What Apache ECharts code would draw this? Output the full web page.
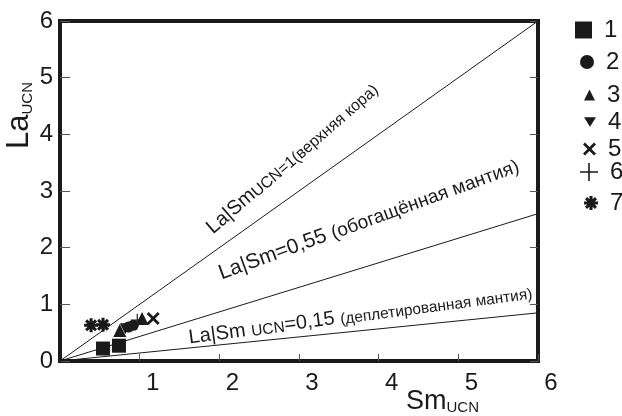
<!DOCTYPE html>
<html>
<head>
<meta charset="utf-8">
<script src="https://cdn.jsdelivr.net/npm/echarts@6/dist/echarts.min.js"></script>
<style>html,body{margin:0;padding:0;background:#fff}#c{width:622px;height:416px}</style>
</head>
<body>
<div id="c"></div>
<script>
// ---- data ----
const seriesNames = ['1', '2', '3', '4', '5', '6', '7'];
const s1 = [[0.54, 0.22], [0.74, 0.27]];
const s2 = [[0.86, 0.60], [0.92, 0.63]];
const s3 = [[0.75, 0.54], [1.03, 0.75]];
const s4 = [[0.82, 0.57]];
const s5 = [[1.17, 0.75]];
const s6 = [[0.97, 0.72]];
const s7 = [[0.39, 0.63], [0.54, 0.64]];
const lineUpperCrust = [[0, 0], [6, 6]];
const lineEnriched = [[0, 0], [6, 2.6]];
const lineDepleted = [[0, 0], [6, 0.85]];
const axisMin = 0, axisMax = 6, axisStep = 1;

// ---- styles ----
const FONT = '"Liberation Sans", Arial, sans-serif';
const INK = '#1a1a1a';
const sym = {
  '1': 'rect',
  '2': 'circle',
  '3': 'triangle',
  '4': 'path://M-5,-4 L5,-4 L0,4 Z',
  '5': 'path://M-5,-3.5 L-3.5,-5 L0,-1.5 L3.5,-5 L5,-3.5 L1.5,0 L5,3.5 L3.5,5 L0,1.5 L-3.5,5 L-5,3.5 L-1.5,0 Z',
  '6': 'path://M-0.45,-5 L0.45,-5 L0.45,-0.45 L5,-0.45 L5,0.45 L0.45,0.45 L0.45,5 L-0.45,5 L-0.45,0.45 L-5,0.45 L-5,-0.45 L-0.45,-0.45 Z',
  '7': 'path://M-1.1,-5 L1.1,-5 L1.1,5 L-1.1,5 Z M-5,-1.1 L5,-1.1 L5,1.1 L-5,1.1 Z M-4.3,-2.75 L-2.75,-4.3 L4.3,2.75 L2.75,4.3 Z M2.75,-4.3 L4.3,-2.75 L-2.75,4.3 L-4.3,2.75 Z'
};
const symSize = {'1': 14, '2': 11, '3': 13, '4': 11, '5': 13, '6': 13, '7': 14};
const dataSets = [s1, s2, s3, s4, s5, s6, s7];

// legend layout (icon left, icon size, centre y)
const legendLayout = [
  [575, 17, 30], [580, 14, 62], [584, 11, 95], [584, 12, 122],
  [583, 13, 149], [580, 18, 172], [584, 14, 203]
];

const chart = echarts.init(document.getElementById('c'), null, {renderer: 'canvas'});

const scatterSeries = seriesNames.map((n, i) => ({
  name: n,
  type: 'scatter',
  data: dataSets[i],
  symbol: sym[n],
  symbolSize: symSize[n],
  itemStyle: {color: INK, opacity: 1},
  z: 5
}));

const refLine = (d) => ({
  type: 'line', data: d, symbol: 'none', silent: true,
  lineStyle: {color: INK, width: 1}, z: 3
});

const legends = seriesNames.map((n, i) => {
  const [l, s, cy] = legendLayout[i];
  return {
    data: [{name: n, icon: sym[n]}],
    left: l, top: cy - 13, padding: 0,
    itemWidth: s, itemHeight: s,
    selectedMode: false,
    textStyle: {fontFamily: FONT, fontSize: 24, lineHeight: 26, color: INK, padding: [0, 0, 0, 7]}
  };
});

const txt = (x, y, deg, text, rich) => ({
  type: 'text', x: x, y: y, rotation: deg * Math.PI / 180, silent: true,
  style: {text: text, rich: rich, fill: INK, fontFamily: FONT, align: 'left', verticalAlign: 'bottom'}
});
const R = (size) => ({fontSize: size, fontFamily: FONT, color: INK, verticalAlign: 'bottom'});

chart.setOption({
  animation: false,
  backgroundColor: '#fff',
  grid: {left: 60, top: 21, right: 84, bottom: 55, show: true, borderColor: INK, borderWidth: 4, backgroundColor: 'transparent'},
  legend: legends,
  xAxis: {
    type: 'value', min: axisMin, max: axisMax, interval: axisStep,
    axisLine: {show: false},
    splitLine: {show: false},
    axisTick: {show: true, inside: true, length: 7, lineStyle: {color: '#555', width: 1}},
    axisLabel: {showMinLabel: false, fontSize: 24, fontFamily: FONT, color: INK, margin: 10, padding: [0, 0, 0, 26]}
  },
  yAxis: [{
    type: 'value', min: axisMin, max: axisMax, interval: axisStep,
    axisLine: {show: false},
    splitLine: {show: false},
    axisTick: {show: true, inside: true, length: 10, lineStyle: {color: '#555', width: 1}},
    axisLabel: {fontSize: 24, fontFamily: FONT, color: INK, margin: 7, padding: [8, 0, 0, 0]}
  }, {
    type: 'value', min: axisMin, max: axisMax, interval: axisStep, position: 'right',
    axisLine: {show: false}, splitLine: {show: false},
    axisTick: {show: true, inside: true, length: 8, lineStyle: {color: '#555', width: 1}},
    axisLabel: {show: false}
  }],
  series: [refLine(lineUpperCrust), refLine(lineEnriched), refLine(lineDepleted)].concat(scatterSeries),
  graphic: [
    txt(35, 149, 90, '{a|La}{b|UCN}', {a: R(31), b: R(15)}),
    txt(406, 415, 0, '{a|Sm}{b|UCN}', {a: R(27), b: R(15)}),
    txt(216, 238, 41, '{a|La|Sm}{b|UCN=1(верхняя кора)}', {a: R(20), b: R(16)}),
    txt(223, 284, 20, '{a|La|Sm=0,55 }{b|(обогащённая мантия)}', {a: R(21), b: R(19)}),
    txt(190, 348, 7.6, '{a|La|Sm }{b|UCN}{a|=0,15 }{b|(деплетированная мантия)}', {a: R(20), b: R(15.5)})
  ]
});
</script>
</body>
</html>
